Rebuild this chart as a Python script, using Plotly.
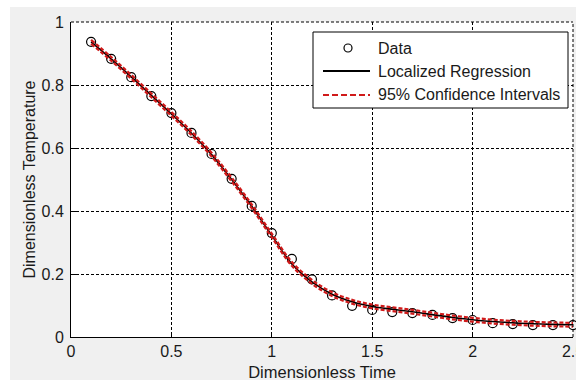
import plotly.graph_objects as go

# ---- data ----
time_data = [0.1, 0.2, 0.3, 0.4, 0.5, 0.6, 0.7, 0.8, 0.9, 1.0, 1.1, 1.2, 1.3,
             1.4, 1.5, 1.6, 1.7, 1.8, 1.9, 2.0, 2.1, 2.2, 2.3, 2.4, 2.5]
temp_data = [0.937, 0.883, 0.825, 0.765, 0.711, 0.648, 0.581, 0.502, 0.416,
             0.330, 0.248, 0.183, 0.132, 0.099, 0.086, 0.079, 0.076, 0.070,
             0.060, 0.054, 0.044, 0.041, 0.038, 0.038, 0.038]

time_fit = [0.1, 0.2, 0.3, 0.4, 0.5, 0.6, 0.7, 0.8, 0.9, 1.0, 1.1, 1.2, 1.3,
            1.4, 1.5, 1.6, 1.7, 1.8, 1.9, 2.0, 2.1, 2.2, 2.3, 2.4, 2.5]
temp_fit = [0.937, 0.883, 0.826, 0.767, 0.708, 0.647, 0.579, 0.500, 0.415,
            0.322, 0.232, 0.175, 0.136, 0.112, 0.097, 0.088, 0.080, 0.071,
            0.062, 0.055, 0.049, 0.045, 0.042, 0.040, 0.039]
ci_upper = [0.943, 0.889, 0.832, 0.773, 0.714, 0.653, 0.585, 0.506, 0.421,
            0.328, 0.238, 0.181, 0.142, 0.118, 0.103, 0.094, 0.086, 0.077,
            0.068, 0.061, 0.055, 0.051, 0.048, 0.046, 0.045]
ci_lower = [0.931, 0.877, 0.820, 0.761, 0.702, 0.641, 0.573, 0.494, 0.409,
            0.316, 0.226, 0.169, 0.130, 0.106, 0.091, 0.082, 0.074, 0.065,
            0.056, 0.049, 0.043, 0.039, 0.036, 0.034, 0.033]

x_ticks = [0, 0.5, 1, 1.5, 2, 2.5]
x_tick_text = ["0", "0.5", "1", "1.5", "2", "2.5"]
y_ticks = [0, 0.2, 0.4, 0.6, 0.8, 1]
y_tick_text = ["0", "0.2", "0.4", "0.6", "0.8", "1"]

legend_labels = ["Data", "Localized Regression", "95% Confidence Intervals"]

RED = "#d01a1a"
FONT = "Liberation Sans, Arial, sans-serif"
TXT = "#1a1a1a"

W, H = 576, 381
ML, MR, MT, MB = 71, 3, 22, 44
PW, PH = W - ML - MR, H - MT - MB

def px_x(p):
    return (p - ML) / PW

def px_y(p):
    return (H - MB - p) / PH

fig = go.Figure()
fig.add_trace(go.Scatter(
    x=time_data, y=temp_data, mode="markers", name=legend_labels[0],
    marker=dict(symbol="circle-open", size=9, color="black",
                line=dict(width=1.2, color="black")),
    cliponaxis=False))
fig.add_trace(go.Scatter(
    x=time_fit, y=temp_fit, mode="lines", name=legend_labels[1],
    line=dict(color="black", width=1.6, shape="spline")))
fig.add_trace(go.Scatter(
    x=time_fit, y=ci_upper, mode="lines", name=legend_labels[2],
    line=dict(color=RED, width=2.2, dash="4px,2px", shape="spline")))
fig.add_trace(go.Scatter(
    x=time_fit, y=ci_lower, mode="lines", name=legend_labels[2],
    line=dict(color=RED, width=2.2, dash="4px,2px", shape="spline")))

axis_common = dict(
    showline=True, linecolor="black", linewidth=1,
    showgrid=True, gridcolor="black", gridwidth=1, griddash="3px,2px",
    zeroline=False, ticks="inside", ticklen=5, tickcolor="black",
    tickfont=dict(family=FONT, size=16, color=TXT),
    ticklabeloverflow="allow", automargin=False,
)

fig.update_xaxes(range=[0, 2.5], tickvals=x_ticks, ticktext=x_tick_text,
                 title_text="Dimensionless Time", title_standoff=7,
                 title_font=dict(family=FONT, size=16.5, color=TXT),
                 **axis_common)
fig.update_yaxes(range=[0, 1], tickvals=y_ticks, ticktext=y_tick_text,
                 title_text="Dimensionless Temperature", title_standoff=1,
                 title_font=dict(family=FONT, size=16, color=TXT),
                 ticklabelstandoff=3,
                 **axis_common)

grid_dash = dict(color="black", width=1, dash="3px,2px")
shapes = [
    # white outer border of the screenshot
    dict(type="rect", xref="paper", yref="paper", x0=px_x(-5), x1=px_x(W + 5),
         y0=px_y(7), y1=px_y(-5), fillcolor="white", line_width=0),
    dict(type="rect", xref="paper", yref="paper", x0=px_x(-5), x1=px_x(10),
         y0=px_y(H + 5), y1=px_y(-5), fillcolor="white", line_width=0),
    dict(type="rect", xref="paper", yref="paper", x0=px_x(-5), x1=px_x(W + 5),
         y0=px_y(H + 5), y1=px_y(380), fillcolor="white", line_width=0),
    # grid lines at the upper ends of the axes
    dict(type="line", xref="paper", yref="paper", x0=0, x1=1, y0=1, y1=1,
         line=grid_dash),
    dict(type="line", xref="paper", yref="paper", x0=1, x1=1, y0=0, y1=1,
         line=grid_dash),
    # legend box
    dict(type="rect", xref="paper", yref="paper", x0=px_x(313), x1=px_x(568),
         y0=px_y(108), y1=px_y(32), fillcolor="white",
         line=dict(color="black", width=1)),
    # legend samples
    dict(type="circle", xref="paper", yref="paper", xsizemode="pixel",
         ysizemode="pixel", xanchor=px_x(348), yanchor=px_y(48),
         x0=-4, x1=4, y0=-4, y1=4, line=dict(color="black", width=1.2)),
    dict(type="line", xref="paper", yref="paper", x0=px_x(323), x1=px_x(370),
         y0=px_y(71), y1=px_y(71), line=dict(color="black", width=1.8)),
    dict(type="line", xref="paper", yref="paper", x0=px_x(323), x1=px_x(370),
         y0=px_y(95), y1=px_y(95), line=dict(color=RED, width=2.2, dash="6px,3px")),
]

annotations = []
for label, row_y in zip(legend_labels, [48, 71, 95]):
    annotations.append(dict(
        text=label, xref="paper", yref="paper", x=px_x(376), y=px_y(row_y),
        xanchor="left", yanchor="middle", showarrow=False,
        font=dict(family=FONT, size=16, color=TXT)))

fig.update_layout(
    width=W, height=H,
    margin=dict(l=ML, r=MR, t=MT, b=MB),
    paper_bgcolor="#f0f0f0", plot_bgcolor="white",
    font=dict(family=FONT, size=16, color=TXT),
    shapes=shapes, annotations=annotations,
    showlegend=False,
)

fig.write_html("out.html")
